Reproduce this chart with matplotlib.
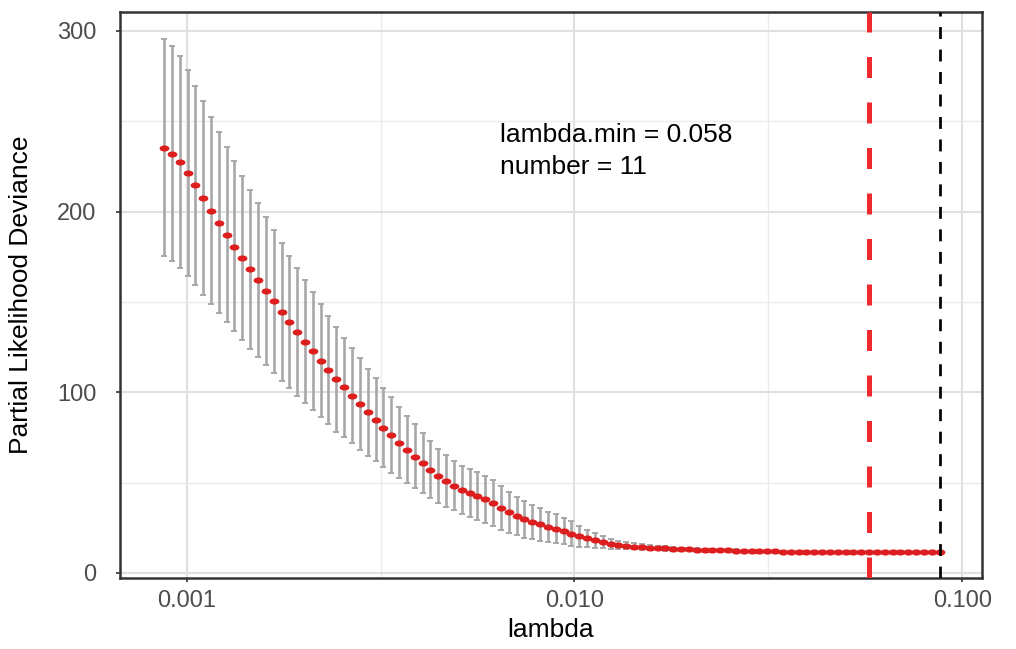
import numpy as np
import matplotlib.pyplot as plt
from matplotlib.markers import MarkerStyle
from matplotlib.transforms import Affine2D
from matplotlib.ticker import FixedLocator, MultipleLocator, FuncFormatter

plt.rcParams['font.family'] = ['Liberation Sans', 'DejaVu Sans']

# lambda path (100 values)
lam = [0.000874, 0.0009156, 0.0009592, 0.001005, 0.001053, 0.001103, 0.001155, 0.001210, 0.001268, 0.001328,
       0.001392, 0.001458, 0.001527, 0.001600, 0.001676, 0.001756, 0.001840, 0.001927, 0.002019, 0.002115,
       0.002216, 0.002321, 0.002432, 0.002548, 0.002669, 0.002796, 0.002929, 0.003069, 0.003215, 0.003368,
       0.003528, 0.003696, 0.003872, 0.004057, 0.004250, 0.004452, 0.004664, 0.004886, 0.005119, 0.005363,
       0.005618, 0.005886, 0.006166, 0.006459, 0.006767, 0.007089, 0.007427, 0.007780, 0.008151, 0.008539,
       0.008946, 0.009372, 0.009818, 0.01029, 0.01078, 0.01129, 0.01183, 0.01239, 0.01298, 0.01360,
       0.01424, 0.01492, 0.01563, 0.01638, 0.01716, 0.01797, 0.01883, 0.01973, 0.02067, 0.02165,
       0.02268, 0.02376, 0.02489, 0.02608, 0.02732, 0.02862, 0.02998, 0.03141, 0.03291, 0.03447,
       0.03611, 0.03783, 0.03963, 0.04152, 0.04350, 0.04557, 0.04774, 0.05001, 0.05239, 0.05489,
       0.05750, 0.06024, 0.06311, 0.06612, 0.06926, 0.07256, 0.07602, 0.07964, 0.08343, 0.08740]

# mean cross-validated deviance
cvm = [235.4, 232.0, 227.3, 221.4, 214.5, 207.3, 200.5, 193.9, 187.0, 180.6,
       174.3, 168.2, 162.0, 156.1, 150.4, 144.4, 138.9, 133.4, 128.0, 122.6,
       117.4, 112.3, 107.4, 102.8, 98.1, 93.5, 88.9, 84.7, 80.4, 76.4,
       72.1, 68.2, 64.4, 60.7, 57.0, 53.8, 50.9, 48.3, 46.1, 44.3,
       42.6, 40.8, 38.6, 36.1, 33.6, 31.5, 29.7, 28.2, 26.9, 25.5,
       24.3, 23.1, 21.6, 20.3, 19.2, 18.1, 17.0, 16.2, 15.5, 14.9,
       14.6, 14.3, 14.0, 13.8, 13.6, 13.4, 13.2, 13.0, 12.9, 12.8,
       12.7, 12.6, 12.5, 12.4, 12.3, 12.2, 12.1, 12.0, 11.9, 11.8,
       11.75, 11.7, 11.65, 11.6, 11.55, 11.5, 11.45, 11.42, 11.4, 11.38,
       11.36, 11.37, 11.38, 11.39, 11.4, 11.41, 11.42, 11.43, 11.44, 11.45]

# upper bound (mean + se)
cvup = [295.6, 291.8, 286.0, 278.2, 269.7, 261.0, 252.4, 243.9, 235.7, 227.8,
        219.9, 212.1, 204.6, 197.2, 189.8, 182.8, 175.6, 168.7, 161.9, 155.3,
        148.8, 142.2, 136.0, 130.0, 124.4, 118.8, 113.1, 107.7, 102.4, 97.2,
        92.1, 87.1, 82.3, 77.5, 73.0, 68.8, 65.1, 62.1, 59.4, 57.7,
        56.1, 53.8, 51.5, 48.3, 45.0, 42.2, 39.8, 37.6, 35.7, 34.0,
        32.7, 30.6, 28.6, 26.2, 24.0, 22.0, 20.3, 18.8, 17.9, 17.2,
        16.6, 16.0, 15.5, 15.1, 14.7, 14.4, 14.1, 13.9, 13.7, 13.5,
        13.4, 13.2, 13.1, 13.0, 12.9, 12.8, 12.7, 12.6, 12.5, 12.4,
        12.35, 12.3, 12.25, 12.2, 12.15, 12.1, 12.05, 12.02, 12.0, 11.98,
        11.96, 11.97, 11.98, 11.99, 12.0, 12.01, 12.02, 12.03, 12.04, 12.05]

# lower bound (mean - se)
cvlo = [175.4, 172.4, 168.7, 164.5, 159.5, 154.0, 148.9, 143.7, 138.7, 133.7,
        128.9, 124.1, 119.4, 114.9, 110.7, 106.4, 102.4, 98.1, 94.0, 90.1,
        86.2, 82.5, 78.2, 75.3, 71.8, 68.2, 64.9, 61.8, 58.8, 55.5,
        52.4, 49.6, 46.9, 44.1, 41.3, 38.9, 36.5, 34.7, 32.7, 31.2,
        29.5, 27.8, 25.8, 23.8, 22.3, 20.9, 19.5, 18.7, 17.8, 17.2,
        16.8, 16.0, 15.1, 14.6, 14.2, 13.8, 13.7, 13.4, 13.4, 13.3,
        13.1, 12.9, 12.7, 12.5, 12.4, 12.3, 12.2, 12.1, 12.0, 11.95,
        11.9, 11.85, 11.8, 11.75, 11.7, 11.6, 11.5, 11.4, 11.3, 11.2,
        11.15, 11.1, 11.05, 11.0, 10.95, 10.9, 10.85, 10.82, 10.8, 10.78,
        10.76, 10.77, 10.78, 10.79, 10.8, 10.81, 10.82, 10.83, 10.84, 10.85]

lambda_min = 0.0575
lambda_1se = 0.0874
n_features = 11

lam = np.array(lam)
cvm = np.array(cvm)
cvup = np.array(cvup)
cvlo = np.array(cvlo)

fig = plt.figure(figsize=(10.16, 6.49), dpi=100)
ax = fig.add_axes([0.1181, 0.1099, 0.8481, 0.8711])

ax.set_xscale('log')
ax.set_xlim(0.000673, 0.1122)
ax.set_ylim(-2.6, 310.3)

# grid like theme_bw
ax.xaxis.set_major_locator(FixedLocator([0.001, 0.01, 0.1]))
ax.xaxis.set_minor_locator(FixedLocator([10 ** -2.5, 10 ** -1.5]))
ax.xaxis.set_major_formatter(FuncFormatter(lambda v, p: '%.3f' % v))
ax.xaxis.set_minor_formatter(FuncFormatter(lambda v, p: ''))
ax.yaxis.set_major_locator(MultipleLocator(100))
ax.yaxis.set_minor_locator(MultipleLocator(50))
ax.grid(which='major', color='#E0E0E0', linewidth=1.5, zorder=0)
ax.grid(which='minor', color='#EBEBEB', linewidth=1.0, zorder=0)
ax.set_axisbelow(True)

# error bars
ax.errorbar(lam, cvm, yerr=[cvm - cvlo, cvup - cvm], fmt='none',
            ecolor='#A8A8A8', elinewidth=1.9, capsize=2.4, capthick=1.4, zorder=2)

# points (slightly wide ellipses)
ell = MarkerStyle('o', transform=Affine2D().scale(1.6, 1.0))
ax.plot(lam, cvm, linestyle='none', marker=ell, markersize=4.4,
        color='#DD1E1E', markeredgewidth=0, zorder=3)

# reference lines
ax.axvline(lambda_min, color='#EE2A2F', linewidth=3.6, dashes=(4.2, 4.9), zorder=4)
ax.axvline(lambda_1se, color='black', linewidth=1.95, dashes=(4.4, 3.9), zorder=4)

ax.text(0.00643, 233.3, 'lambda.min = %.3f\nnumber = %d' % (0.058, n_features),
        fontsize=19, va='center', ha='left', linespacing=1.42, color='black')

for s in ax.spines.values():
    s.set_color('#333333')
    s.set_linewidth(1.8)

ax.tick_params(which='major', length=3, width=1.2, color='#333333',
               labelcolor='#4D4D4D', labelsize=17)
ax.tick_params(axis='y', pad=14)
ax.tick_params(axis='x', pad=6)
ax.tick_params(which='minor', length=0)

ax.set_xlabel('lambda', fontsize=19)
ax.set_ylabel('Partial Likelihood Deviance', fontsize=19)
ax.xaxis.set_label_coords(0.5, -0.072)
ax.yaxis.set_label_coords(-0.101, 0.5)
ax.xaxis.label.set_va('top')

plt.savefig('out.png', dpi=100)
